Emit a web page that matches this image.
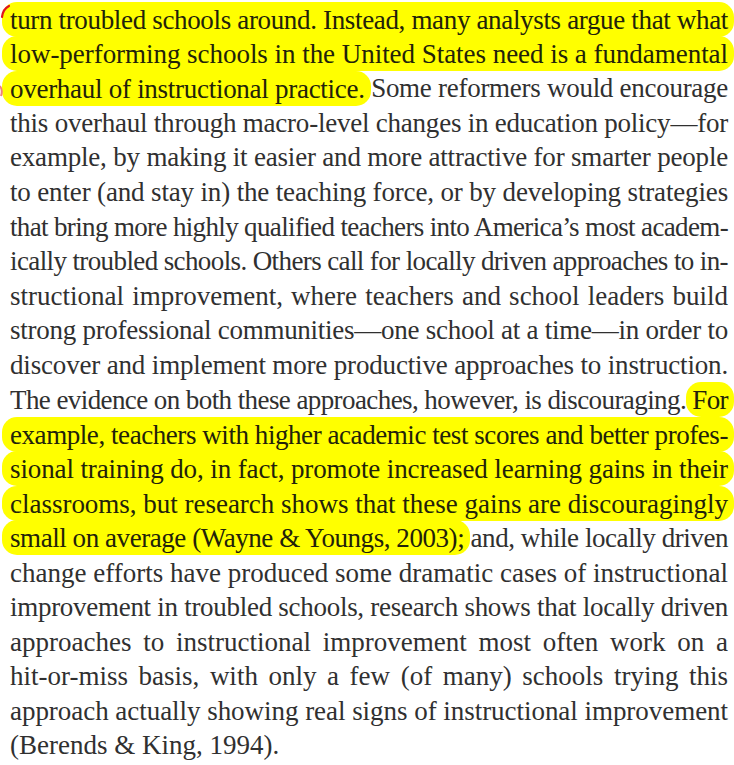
<!DOCTYPE html>
<html>
<head>
<meta charset="utf-8">
<script src="https://cdn.jsdelivr.net/npm/chart.js@4"></script>
<style>
  html, body { margin: 0; padding: 0; background: #fff; }
  body { width: 734px; height: 765px; overflow: hidden; position: relative; }
  #page {
    position: absolute; left: 10px; top: 2px; width: 718px;
    font-family: "Liberation Serif", "Times New Roman", Times, "DejaVu Serif", serif;
    font-size: 27px; line-height: 34.6px; color: #303030;
  }
  .ln { white-space: nowrap; text-align: justify; text-align-last: justify; height: 34.6px; }
  .ln.last { text-align-last: left; }
  .hl {
    background: #ffff00; color: #22220a;
    padding: 2.5px 6px; margin: 0 -6px; border-radius: 15px;
  }
  .hl.l { padding-left: 8px; margin-left: -8px; }
  #pen { position: absolute; left: 0; top: 0; }
</style>
</head>
<body>
<div id="page"></div>
<svg id="pen" width="14" height="110">
  <path d="M2 17 Q3 9 9 6" stroke="#e0141e" stroke-width="2.2" fill="none" stroke-linecap="round"/>
  <path d="M0 86 Q3 90 1 96" stroke="#f08080" stroke-width="2" fill="none"/>
</svg>
<script>
const lines = [
  "turn troubled schools around. Instead, many analysts argue that what",
  "low-performing schools in the United States need is a fundamental",
  "overhaul of instructional practice. Some reformers would encourage",
  "this overhaul through macro-level changes in education policy\u2014for",
  "example, by making it easier and more attractive for smarter people",
  "to enter (and stay in) the teaching force, or by developing strategies",
  "that bring more highly qualified teachers into America\u2019s most academ-",
  "ically troubled schools. Others call for locally driven approaches to in-",
  "structional improvement, where teachers and school leaders build",
  "strong professional communities\u2014one school at a time\u2014in order to",
  "discover and implement more productive approaches to instruction.",
  "The evidence on both these approaches, however, is discouraging. For",
  "example, teachers with higher academic test scores and better profes-",
  "sional training do, in fact, promote increased learning gains in their",
  "classrooms, but research shows that these gains are discouragingly",
  "small on average (Wayne & Youngs, 2003); and, while locally driven",
  "change efforts have produced some dramatic cases of instructional",
  "improvement in troubled schools, research shows that locally driven",
  "approaches to instructional improvement most often work on a",
  "hit-or-miss basis, with only a few (of many) schools trying this",
  "approach actually showing real signs of instructional improvement",
  "(Berends & King, 1994)."
];

// highlighted spans: line index and the highlighted text in it
const markedLines = [0, 1, 2, 11, 12, 13, 14, 15];
const markedText = [
  lines[0],
  lines[1],
  "overhaul of instructional practice.",
  "For",
  lines[12],
  lines[13],
  lines[14],
  "small on average (Wayne & Youngs, 2003);"
];

const page = document.getElementById("page");
const esc = s => s.replace(/&/g, "&amp;").replace(/</g, "&lt;");

lines.forEach((text, i) => {
  const div = document.createElement("div");
  div.className = "ln" + (i === lines.length - 1 ? " last" : "");
  const k = markedLines.indexOf(i);
  if (k < 0) {
    div.innerHTML = esc(text);
  } else {
    const m = markedText[k];
    const at = text.indexOf(m);
    const before = text.slice(0, at);
    const after = text.slice(at + m.length);
    const cls = "hl" + (at === 0 ? " l" : "");
    div.innerHTML = esc(before) + '<span class="' + cls + '">' + esc(m) + '</span>' + esc(after);
  }
  page.appendChild(div);
});

// squeeze lines that are longer than the column
const probe = document.createElement("span");
probe.style.cssText = "position:absolute;visibility:hidden;white-space:nowrap;font:inherit;";
page.appendChild(probe);
page.querySelectorAll(".ln").forEach(div => {
  probe.textContent = div.textContent;
  const w = probe.getBoundingClientRect().width;
  if (w > 718) {
    div.style.letterSpacing = ((718 - w) / div.textContent.length) + "px";
  }
});
probe.remove();
</script>
</body>
</html>
